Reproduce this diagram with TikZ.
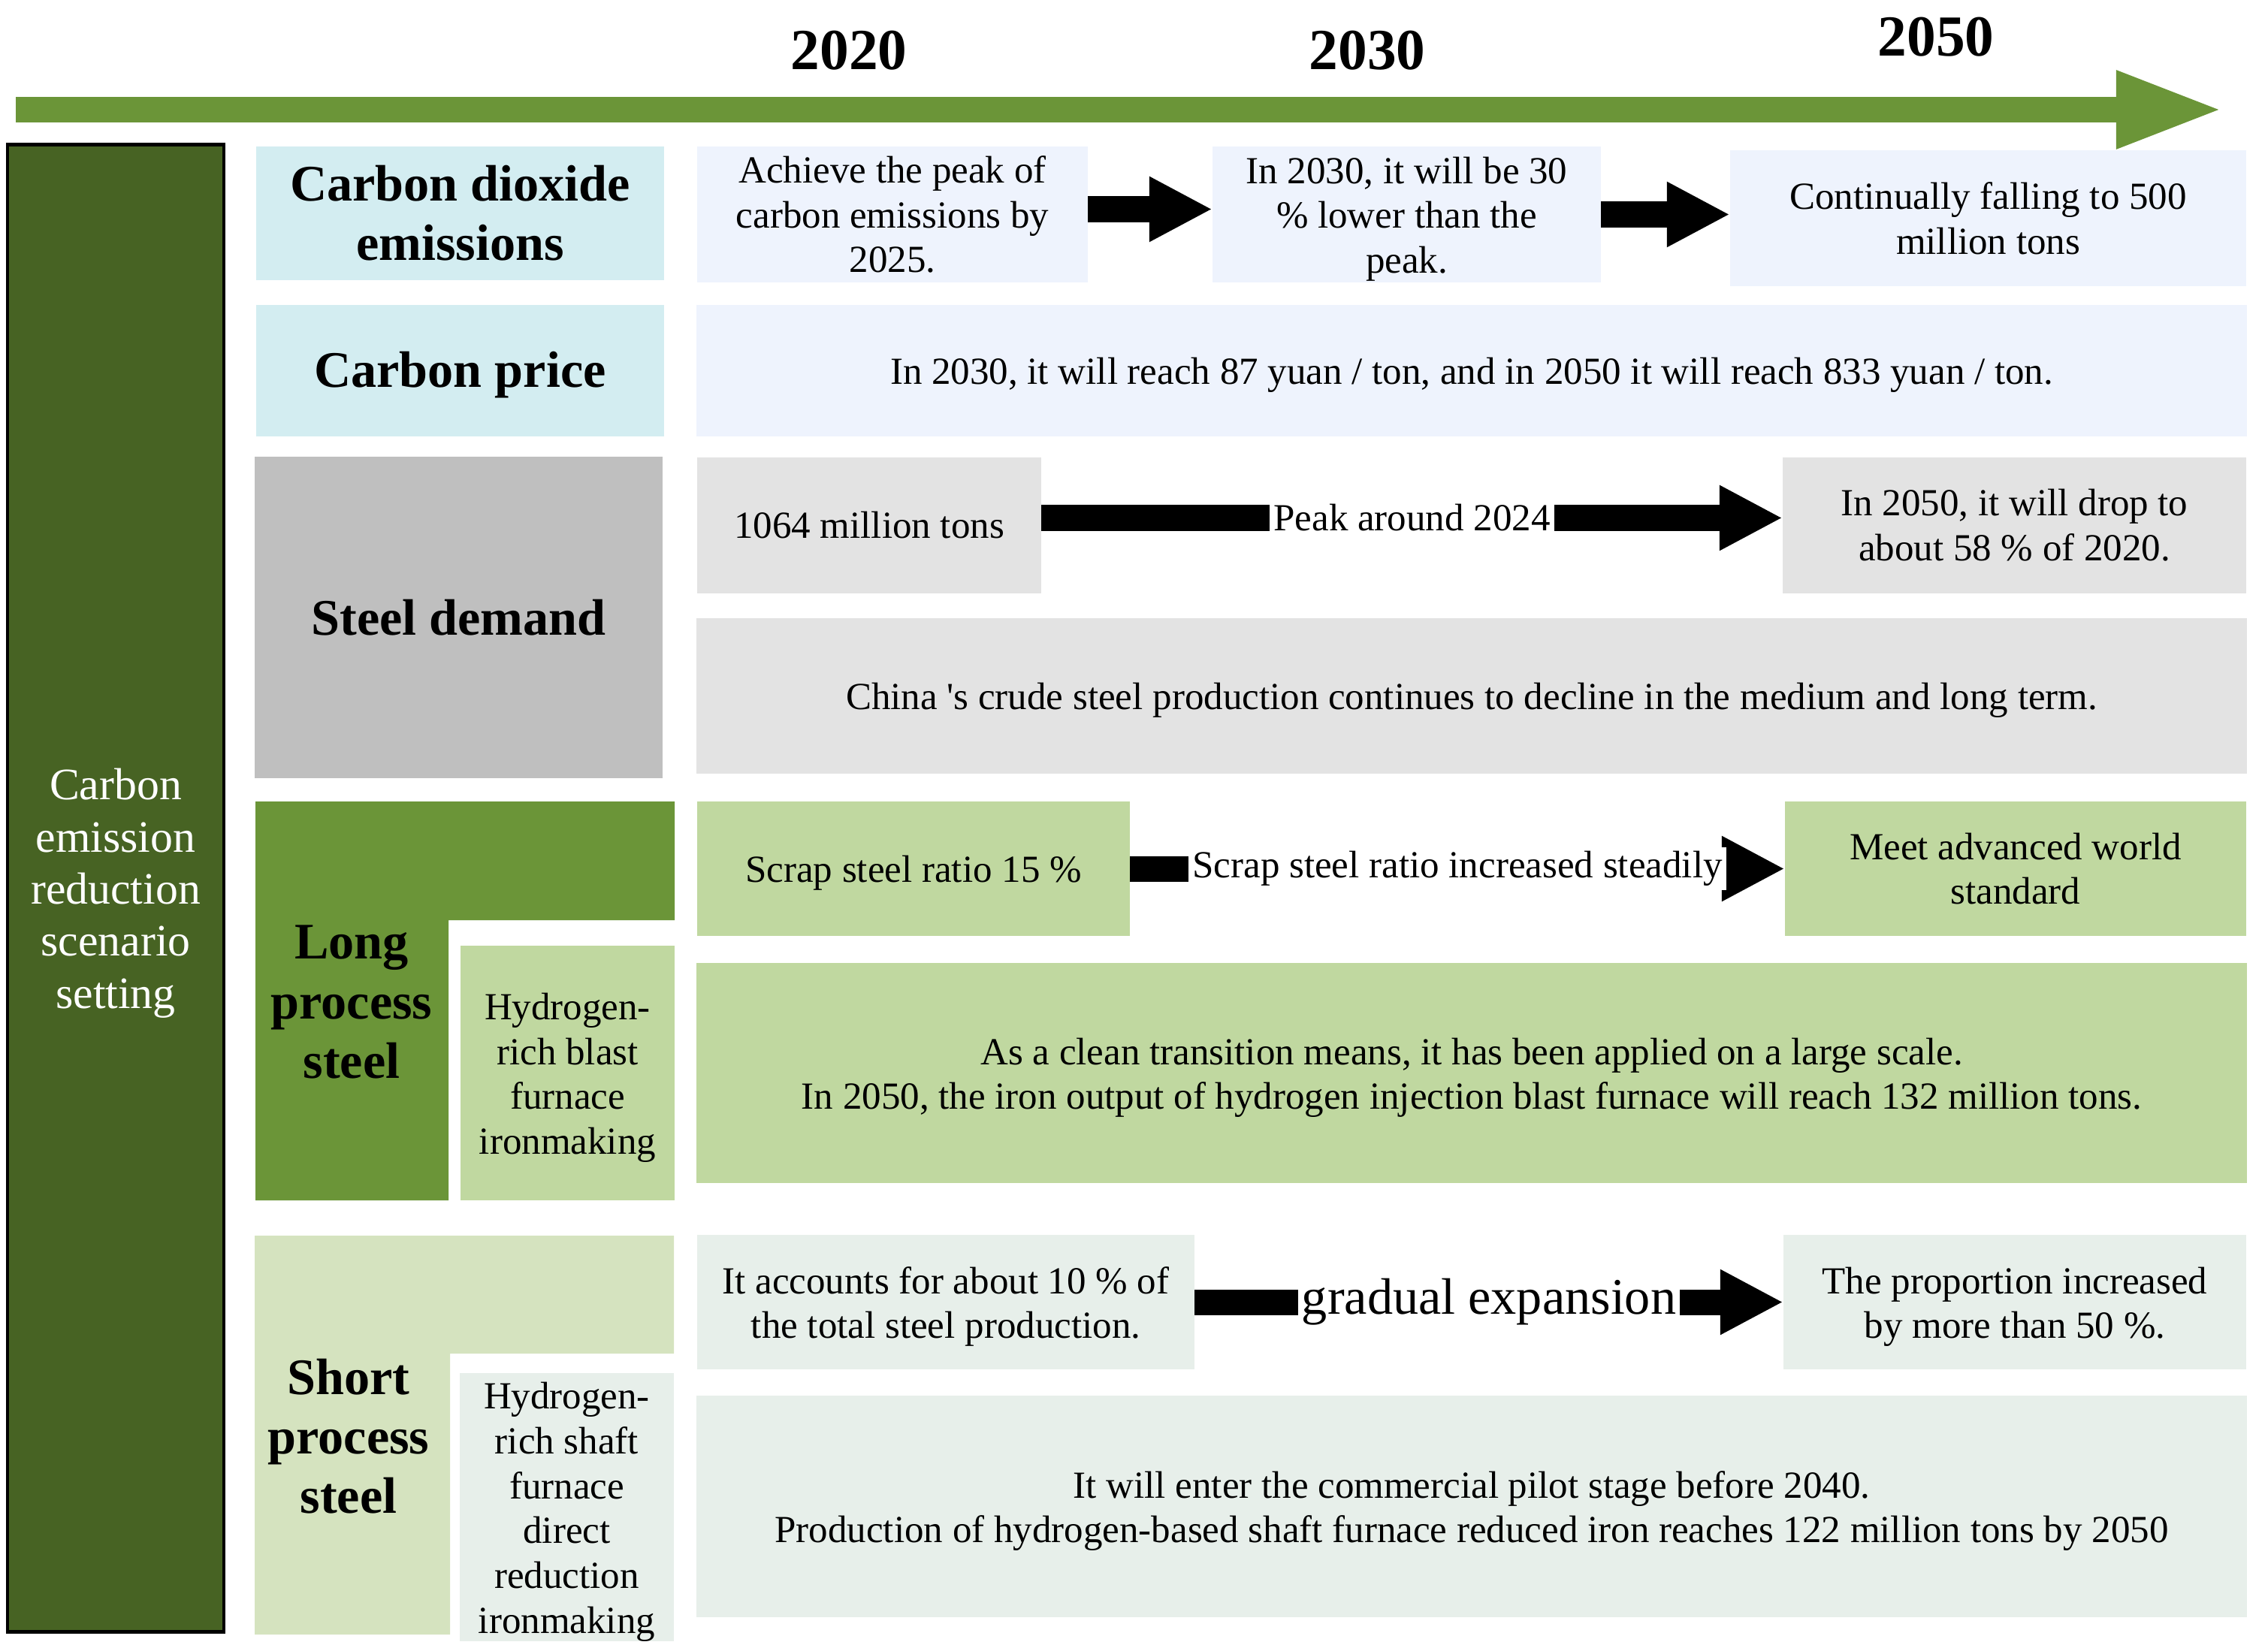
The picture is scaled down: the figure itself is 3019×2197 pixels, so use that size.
\documentclass[tikz,border=0pt]{standalone}
\usepackage{fontspec}
\setmainfont{Liberation Serif}
\usetikzlibrary{arrows.meta}
\definecolor{axisgreen}{HTML}{6B9538}
\definecolor{darkgreen}{HTML}{476323}
\definecolor{cyanbox}{HTML}{D3EDF1}
\definecolor{paleblue}{HTML}{EEF3FD}
\definecolor{midgray}{HTML}{BFBFBF}
\definecolor{lightgray}{HTML}{E3E3E3}
\definecolor{lightgreen}{HTML}{C0D8A0}
\definecolor{palegreen}{HTML}{D5E3BF}
\definecolor{mint}{HTML}{E7EFEA}
\newcommand\bodyfs{\fontsize{14.5pt}{17pt}\selectfont}
\newcommand\headfs{\fontsize{19.4pt}{22.5pt}\selectfont\bfseries}
\newcommand\yearfs{\fontsize{22pt}{26pt}\selectfont\bfseries}
\newcommand\sidefs{\fontsize{17pt}{19.7pt}\selectfont}
\newcommand\bigfs{\fontsize{19.4pt}{22pt}\selectfont}
\newcommand\tallstrut{\rule{0pt}{13.6pt}}
\newcommand\sidestrut{\rule{0pt}{15.6pt}}
\begin{document}
\begin{tikzpicture}[x=0.01cm,y=-0.01cm,
 box/.style={rectangle, inner sep=0pt, outer sep=0pt, align=center, font=\bodyfs},
 droptext/.style={execute at begin node={\rule{0pt}{#1}}},
 headtxt/.style={align=center, font=\headfs, inner sep=0pt},
 yeartxt/.style={font=\yearfs, inner sep=0pt},
 blockarrow/.style={line width=0.34cm, -{Triangle[length=0.84cm, width=0.81cm]}},
 arrowlabel/.style={fill=white, inner sep=1.5pt, font=\bodyfs},
]
\useasboundingbox (0,0) rectangle (3019,2197);
% timeline axis
\coordinate (axs) at (21,146);
\coordinate (axe) at (2961,146);
\draw[line width=0.34cm, axisgreen, -{Triangle[length=1.44cm, width=0.94cm]}] (axs) -- (axe);
\node[yeartxt] (y2020) at (1130,67) {2020};
\node[yeartxt] (y2030) at (1820,67) {2030};
\node[yeartxt] (y2050) at (2577,49) {2050};
% left bar
\node[box, draw=black, line width=1.2pt, fill=darkgreen, text=white, font=\sidefs, minimum width=2.88cm, minimum height=19.79cm] (side) at (154,1182.5) {\sidestrut Carbon\\emission\\reduction\\scenario\\setting};
% CO2 row
\node[box, fill=cyanbox, font=\headfs, minimum width=5.43cm, minimum height=1.78cm] (co2h) at (612.5,284) {Carbon dioxide\\emissions};
\node[box, fill=paleblue, minimum width=5.20cm, minimum height=1.81cm] (co2a) at (1188,285.5) {Achieve the peak of\\carbon emissions by\\2025.};
\node[box, fill=paleblue, minimum width=5.17cm, minimum height=1.81cm] (co2b) at (1872.5,285.5) {\tallstrut In 2030, it will be 30\\\% lower than the\\peak.};
\node[box, fill=paleblue, minimum width=6.87cm, minimum height=1.81cm] (co2c) at (2646.5,290.5) {Continually falling to 500\\million tons};
\draw[blockarrow] ([yshift=0.07cm]co2a.east) -- ([yshift=0.07cm]co2b.west);
\draw[blockarrow] (co2b.east) -- (co2c.west |- co2b.east);
% carbon price
\node[box, fill=cyanbox, font=\headfs, droptext=16.8pt, minimum width=5.43cm, minimum height=1.75cm] (priceh) at (612.5,493.5) {Carbon price};
\node[box, fill=paleblue, droptext=13.4pt, minimum width=20.62cm, minimum height=1.75cm] (price) at (1959,493.5) {In 2030, it will reach 87 yuan / ton, and in 2050 it will reach 833 yuan / ton.};
% steel demand
\node[box, fill=midgray, font=\headfs, minimum width=5.43cm, minimum height=4.28cm] (steelh) at (610.5,822) {Steel demand};
\node[box, fill=lightgray, minimum width=4.58cm, minimum height=1.81cm] (steela) at (1157,699.5) {1064 million tons};
\node[box, fill=lightgray, minimum width=6.17cm, minimum height=1.81cm] (steelc) at (2681.5,699.5) {In 2050, it will drop to\\about 58 \% of 2020.};
\node[box, fill=lightgray, droptext=13.4pt, minimum width=20.62cm, minimum height=2.07cm] (steelb) at (1959,926.5) {China \textquotesingle s crude steel production continues to decline in the medium and long term.};
\draw[blockarrow] ([yshift=0.1cm]steela.east) -- node[arrowlabel] (steellbl) {Peak around 2024} ([yshift=0.1cm]steelc.west);
% long process
\fill[axisgreen] (340,1067) -- (898,1067) -- (898,1225) -- (597,1225) -- (597,1598) -- (340,1598) -- cycle;
\node[headtxt] (longh) at (468,1334) {Long\\process\\steel};
\node[box, fill=lightgreen, minimum width=2.85cm, minimum height=3.39cm] (longhyd) at (755.5,1428.5) {\tallstrut Hydrogen-\\rich blast\\furnace\\ironmaking};
\node[box, fill=lightgreen, droptext=13.4pt, minimum width=5.76cm, minimum height=1.79cm] (longa) at (1216,1156.5) {Scrap steel ratio 15 \%};
\node[box, fill=lightgreen, minimum width=6.14cm, minimum height=1.79cm] (longc) at (2683,1156.5) {Meet advanced world\\standard};
\node[box, fill=lightgreen, minimum width=20.62cm, minimum height=2.93cm] (longb) at (1959,1428.5) {\tallstrut As a clean transition means, it has been applied on a large scale.\\In 2050, the iron output of hydrogen injection blast furnace will reach 132 million tons.};
\draw[blockarrow] (longa.east) -- node[arrowlabel] (longlbl) {Scrap steel ratio increased steadily} (longc.west);
% short process
\fill[palegreen] (339,1645) -- (897,1645) -- (897,1802) -- (599,1802) -- (599,2176) -- (339,2176) -- cycle;
\node[headtxt] (shorth) at (464,1912) {Short\\process\\steel};
\node[box, fill=mint, minimum width=2.85cm, minimum height=3.39cm] (shorthyd) at (754.5,2006.5) {\tallstrut Hydrogen-\\rich shaft\\furnace\\direct\\reduction\\ironmaking};
\node[box, fill=mint, minimum width=6.62cm, minimum height=1.79cm] (shorta) at (1259,1733.5) {\tallstrut It accounts for about 10 \% of\\the total steel production.};
\node[box, fill=mint, minimum width=6.16cm, minimum height=1.79cm] (shortc) at (2682,1733.5) {\tallstrut The proportion increased\\by more than 50 \%.};
\node[box, fill=mint, minimum width=20.62cm, minimum height=2.95cm] (shortb) at (1959,2005.5) {\tallstrut It will enter the commercial pilot stage before 2040.\\Production of hydrogen-based shaft furnace reduced iron reaches 122 million tons by 2050};
\draw[blockarrow] (shorta.east) -- node[arrowlabel, font=\bigfs] (shortlbl) {gradual expansion} (shortc.west);
\end{tikzpicture}
\end{document}
